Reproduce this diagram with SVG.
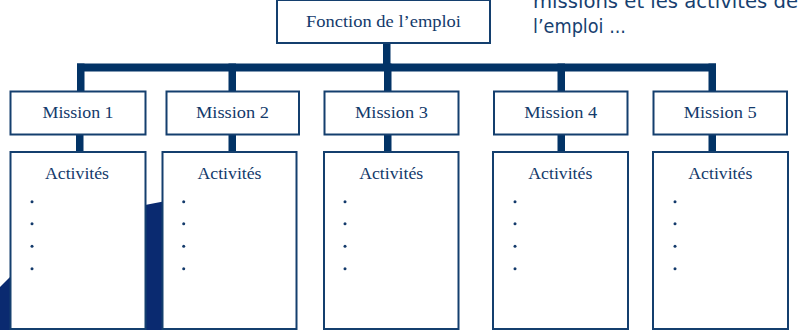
<svg xmlns="http://www.w3.org/2000/svg" width="802" height="330" viewBox="0 0 802 330">
  <style>
    .box { fill: #ffffff; stroke: #143f6e; stroke-width: 2; }
    .bar { fill: #023366; }
    .lbl { font-family: "Liberation Serif", "Times New Roman", serif; fill: #133a6b; text-anchor: middle; }
    .note { font-family: "Comic Sans MS", "DejaVu Sans", sans-serif; font-size: 20px; fill: #173f70; }
    .dot { fill: #133a6b; }
  </style>

  <!-- background navy shape -->
  <path d="M0,287 L10,277 L80,226 L145,205 L162,201.7 L230,194 L230,330 L0,330 Z" fill="#0a2a70"/>

  <!-- note text (top right) -->
  <text class="note" x="533" y="8" textLength="265" lengthAdjust="spacingAndGlyphs">missions et les activités de</text>
  <text class="note" x="533" y="33" textLength="93" lengthAdjust="spacingAndGlyphs">l’emploi ...</text>

  <!-- connectors -->
  <g id="connectors">
    <rect class="bar" x="383" y="43" width="7.5" height="21"/>
    <rect class="bar" x="77" y="63.5" width="639" height="8"/>
    <rect class="bar" x="77" y="63.5" width="7.5" height="28"/>
    <rect class="bar" x="228.5" y="63.5" width="7.5" height="28"/>
    <rect class="bar" x="384" y="63.5" width="7.5" height="28"/>
    <rect class="bar" x="557.5" y="63.5" width="7.5" height="28"/>
    <rect class="bar" x="708.5" y="63.5" width="7.5" height="28"/>
    <rect class="bar" x="76" y="134" width="7.5" height="18"/>
    <rect class="bar" x="228.5" y="134" width="7.5" height="18"/>
    <rect class="bar" x="384" y="134" width="7.5" height="18"/>
    <rect class="bar" x="557.5" y="134" width="7.5" height="18"/>
    <rect class="bar" x="708.5" y="134" width="7.5" height="18"/>
  </g>

  <g id="fonction">
    <rect class="box" x="277" y="0" width="213" height="43"/>
    <text class="lbl" x="383.5" y="27" font-size="17" textLength="155" lengthAdjust="spacingAndGlyphs">Fonction de l’emploi</text>
  </g>

  <g id="mission1">
    <rect class="box" x="10.5" y="91.5" width="135" height="43"/>
    <text class="lbl" x="78" y="118" font-size="16" textLength="71" lengthAdjust="spacingAndGlyphs">Mission 1</text>
  </g>
  <g id="mission2">
    <rect class="box" x="166.5" y="91.5" width="132.5" height="43"/>
    <text class="lbl" x="232.5" y="118" font-size="16" textLength="73" lengthAdjust="spacingAndGlyphs">Mission 2</text>
  </g>
  <g id="mission3">
    <rect class="box" x="324.5" y="91.5" width="134" height="43"/>
    <text class="lbl" x="391.5" y="118" font-size="16" textLength="73" lengthAdjust="spacingAndGlyphs">Mission 3</text>
  </g>
  <g id="mission4">
    <rect class="box" x="494" y="91.5" width="133.5" height="43"/>
    <text class="lbl" x="560.7" y="118" font-size="16" textLength="73" lengthAdjust="spacingAndGlyphs">Mission 4</text>
  </g>
  <g id="mission5">
    <rect class="box" x="653.5" y="91.5" width="133.5" height="43"/>
    <text class="lbl" x="720.2" y="118" font-size="16" textLength="73" lengthAdjust="spacingAndGlyphs">Mission 5</text>
  </g>

  <g id="activites1">
    <rect class="box" x="10.5" y="152" width="135" height="177"/>
    <text class="lbl" x="77" y="179" font-size="16" textLength="64" lengthAdjust="spacingAndGlyphs">Activités</text>
    <circle class="dot" cx="32" cy="201.7" r="1.5"/>
    <circle class="dot" cx="32" cy="223.7" r="1.5"/>
    <circle class="dot" cx="32" cy="246.3" r="1.5"/>
    <circle class="dot" cx="32" cy="268.7" r="1.5"/>
  </g>
  <g id="activites2">
    <rect class="box" x="162.5" y="152" width="134" height="177"/>
    <text class="lbl" x="229.5" y="179" font-size="16" textLength="64" lengthAdjust="spacingAndGlyphs">Activités</text>
    <circle class="dot" cx="183.7" cy="201.7" r="1.5"/>
    <circle class="dot" cx="183.7" cy="223.7" r="1.5"/>
    <circle class="dot" cx="183.7" cy="246.3" r="1.5"/>
    <circle class="dot" cx="183.7" cy="268.7" r="1.5"/>
  </g>
  <g id="activites3">
    <rect class="box" x="324" y="152" width="134.5" height="177"/>
    <text class="lbl" x="391.2" y="179" font-size="16" textLength="64" lengthAdjust="spacingAndGlyphs">Activités</text>
    <circle class="dot" cx="345" cy="201.7" r="1.5"/>
    <circle class="dot" cx="345" cy="223.7" r="1.5"/>
    <circle class="dot" cx="345" cy="246.3" r="1.5"/>
    <circle class="dot" cx="345" cy="268.7" r="1.5"/>
  </g>
  <g id="activites4">
    <rect class="box" x="493" y="152" width="135" height="177"/>
    <text class="lbl" x="560.3" y="179" font-size="16" textLength="64" lengthAdjust="spacingAndGlyphs">Activités</text>
    <circle class="dot" cx="515" cy="201.7" r="1.5"/>
    <circle class="dot" cx="515" cy="223.7" r="1.5"/>
    <circle class="dot" cx="515" cy="246.3" r="1.5"/>
    <circle class="dot" cx="515" cy="268.7" r="1.5"/>
  </g>
  <g id="activites5">
    <rect class="box" x="653" y="152" width="135" height="177"/>
    <text class="lbl" x="720.3" y="179" font-size="16" textLength="64" lengthAdjust="spacingAndGlyphs">Activités</text>
    <circle class="dot" cx="675" cy="201.7" r="1.5"/>
    <circle class="dot" cx="675" cy="223.7" r="1.5"/>
    <circle class="dot" cx="675" cy="246.3" r="1.5"/>
    <circle class="dot" cx="675" cy="268.7" r="1.5"/>
  </g>
</svg>
